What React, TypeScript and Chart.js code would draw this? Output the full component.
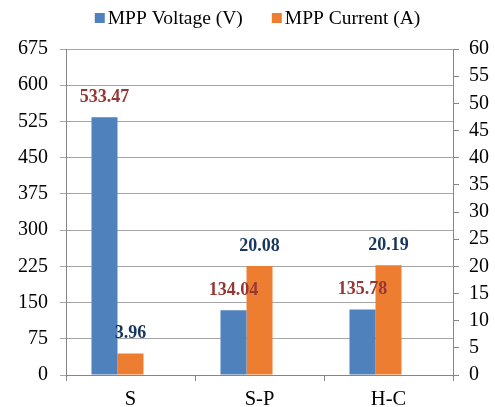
import React, { useEffect, useRef } from "react";
import { Chart, registerables } from "chart.js";

Chart.register(...registerables);

const categories = ["S", "S-P", "H-C"];
const voltageLabel = "MPP Voltage (V)";
const currentLabel = "MPP Current (A)";
const voltage = [533.47, 134.04, 135.78];
const current = [3.96, 20.08, 20.19];

const SERIF = '"Liberation Serif", "Times New Roman", serif';
const BLUE = "#4F81BD";
const ORANGE = "#ED7D31";
const GRID = "#A6A6A6";
const AXIS = "#868686";

// Value labels drawn above each bar of the two real series
const valueLabels = {
  id: "valueLabels",
  afterDatasetsDraw(chart: any) {
    const ctx = chart.ctx;
    const colors = ["#953735", "#17375E"];
    ctx.save();
    ctx.font = `bold 18px ${SERIF}`;
    ctx.textAlign = "center";
    ctx.textBaseline = "middle";
    [0, 1].forEach((di) => {
      const meta = chart.getDatasetMeta(di);
      const data = chart.data.datasets[di].data as number[];
      meta.data.forEach((el: any, i: number) => {
        ctx.fillStyle = colors[di];
        ctx.fillText(data[i].toFixed(2), el.x, el.y - 20);
      });
    });
    ctx.restore();
  },
};

// Legend row above the plot, centred over the chart area
const topLegend = {
  id: "topLegend",
  afterDraw(chart: any) {
    const ctx = chart.ctx;
    const area = chart.chartArea;
    const box = 10;
    const gapText = 3;
    const gapItem = 29;
    const y = 18;
    ctx.save();
    ctx.font = `19.5px ${SERIF}`;
    ctx.textBaseline = "middle";
    ctx.textAlign = "left";
    const items = [0, 1].map((di) => ({
      text: chart.data.datasets[di].label as string,
      color: chart.data.datasets[di].backgroundColor as string,
    }));
    const widths = items.map((it) => box + gapText + ctx.measureText(it.text).width);
    const total = widths.reduce((a, b) => a + b, 0) + gapItem * (items.length - 1);
    let x = (area.left + area.right) / 2 - 2 - total / 2;
    items.forEach((it, i) => {
      ctx.fillStyle = it.color;
      ctx.fillRect(x, y - box / 2, box, box);
      ctx.fillStyle = "#000";
      ctx.fillText(it.text, x + box + gapText, y + 1);
      x += widths[i] + gapItem;
    });
    ctx.restore();
  },
};

export default function App() {
  const ref = useRef<HTMLCanvasElement>(null);

  useEffect(() => {
    if (!ref.current) return;
    const chart = new Chart(ref.current, {
      type: "bar",
      data: {
        labels: categories,
        datasets: [
          { label: voltageLabel, data: voltage, backgroundColor: BLUE, yAxisID: "y" },
          { label: currentLabel, data: current, backgroundColor: ORANGE, yAxisID: "y1" },
          // empty slot keeps the pair left of the category centre
          { label: "", data: [null, null, null], backgroundColor: "transparent", yAxisID: "y" },
        ],
      },
      options: {
        animation: false,
        responsive: true,
        maintainAspectRatio: false,
        layout: { padding: { top: 49, left: 0, right: 0, bottom: 0 } },
        datasets: { bar: { categoryPercentage: 0.605, barPercentage: 1 } },
        plugins: {
          tooltip: { enabled: false },
          legend: { display: false },
        },
        scales: {
          x: {
            grid: { offset: true, drawOnChartArea: false, color: AXIS, tickLength: 6 },
            border: { color: AXIS, width: 1 },
            ticks: { font: { family: SERIF, size: 20.5 }, color: "#000", padding: 6 },
            afterFit: (s: any) => { s.height = 32; },
          },
          y: {
            position: "left",
            min: 0,
            max: 675,
            ticks: { stepSize: 75, font: { family: SERIF, size: 20 }, color: "#000", padding: 12 },
            grid: { color: GRID, tickLength: 6 },
            border: { color: AXIS, width: 1 },
            afterFit: (s: any) => { s.width = 66; },
          },
          y1: {
            position: "right",
            min: 0,
            max: 60,
            ticks: { stepSize: 5, font: { family: SERIF, size: 20 }, color: "#000", padding: 10 },
            grid: { drawOnChartArea: false, color: AXIS, tickLength: 6 },
            border: { color: AXIS, width: 1 },
            afterFit: (s: any) => { s.width = 42; },
          },
        },
      },
      plugins: [valueLabels, topLegend],
    });
    return () => chart.destroy();
  }, []);

  return (
    <div style={{ position: "fixed", left: 0, top: 0, width: 495, height: 407, background: "#fff" }}>
      <canvas ref={ref} />
    </div>
  );
}
